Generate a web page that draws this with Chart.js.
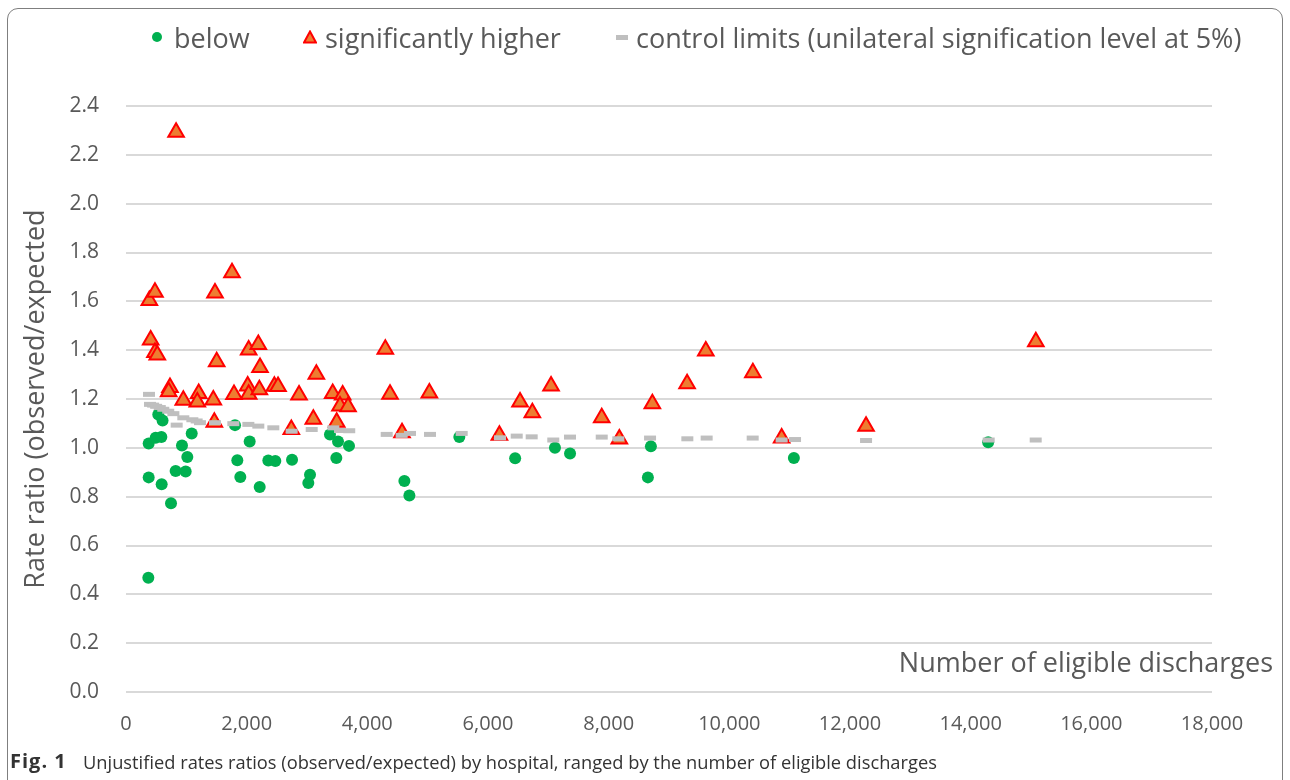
<!DOCTYPE html>
<html>
<head>
<meta charset="utf-8">
<script src="https://cdn.jsdelivr.net/npm/chart.js@4.4.0/dist/chart.umd.min.js"></script>
<style>
  body { margin: 0; background: #fff; font-family: 'Open Sans', sans-serif; }
  #wrap { position: relative; width: 1290px; height: 780px; overflow: hidden; }
  #frame { position: absolute; left: 7px; top: 8px; width: 1276px; height: 820px; border: 1.5px solid #7f7f7f; border-radius: 11px; box-sizing: border-box; }
  canvas { position: absolute; left: 0; top: 0; }
  .leg { position: absolute; top: 18px; height: 38px; display: flex; align-items: center; font-size: 27px; color: #595959; white-space: nowrap; }
  .dot { width: 10px; height: 10px; border-radius: 50%; background: #00B050; margin-right: 12px; }
  .tri { margin-right: 8px; }
  .dash { width: 12px; height: 5px; background: #BFBFBF; margin-right: 8px; }
  #xtitle { position: absolute; right: 17px; top: 643px; font-size: 27px; color: #595959; white-space: nowrap; }
  .cap { position: absolute; top: 749px; color: #333; white-space: nowrap; }
  .cap.fig { left: 10px; font-weight: bold; font-size: 20px; letter-spacing: 1px; top: 747px; }
  .cap.txt { left: 83px; font-size: 18.3px; }
</style>
</head>
<body>
<div id="wrap">
  <div id="frame"></div>
  <canvas id="chart" width="1290" height="780"></canvas>
  <div class="leg" style="left:152px"><span class="dot"></span>below</div>
  <div class="leg" style="left:303px"><svg class="tri" width="14" height="14"><polygon points="7,1.5 13,12.5 1,12.5" fill="#ED7D31" stroke="#FF0000" stroke-width="2"/></svg>significantly higher</div>
  <div class="leg" style="left:616px"><span class="dash"></span>control limits (unilateral signification level at 5%)</div>
  <div id="xtitle">Number of eligible discharges</div>
  <div class="cap fig">Fig. 1</div>
  <div class="cap txt">Unjustified rates ratios (observed/expected) by hospital, ranged by the number of eligible discharges</div>
</div>
<script>
// ===== DATA =====
// hospitals with a ratio below the control limit
const belowX = [370, 535, 606, 376, 492, 586, 1089, 928, 1016, 376, 591, 823, 989, 746,
  1807, 2050, 1845, 1895, 2216, 2359, 2475, 2752, 3050, 3022, 3381, 3514, 3696, 3486,
  4614, 4697, 5525, 6450, 7110, 7360, 8650, 8700, 11070, 14290];
const belowY = [0.468, 1.137, 1.112, 1.018, 1.041, 1.044, 1.059, 1.010, 0.962, 0.879, 0.851, 0.905, 0.903, 0.773,
  1.093, 1.026, 0.949, 0.881, 0.840, 0.948, 0.946, 0.951, 0.890, 0.856, 1.055, 1.026, 1.008, 0.958,
  0.864, 0.805, 1.044, 0.957, 1.000, 0.977, 0.879, 1.006, 0.958, 1.023];

// hospitals significantly higher than expected
const higherX = [830, 387, 480, 409, 480, 519, 729, 707, 950, 1205, 1182, 1447, 1475, 1503, 1464,
  1757, 1790, 2033, 2193, 2221, 2017, 2033, 2210, 2459, 2520, 2868, 3155, 3105, 2740,
  3426, 3591, 3547, 3680, 3492, 4298, 4376, 4575, 5028, 6189, 6531, 6735, 7045, 7885,
  8177, 8724, 9300, 9610, 10390, 10867, 12266, 15080];
const higherY = [2.293, 1.603, 1.637, 1.442, 1.390, 1.380, 1.247, 1.230, 1.195, 1.223, 1.188, 1.196, 1.634, 1.353, 1.105,
  1.717, 1.218, 1.401, 1.423, 1.329, 1.253, 1.219, 1.238, 1.252, 1.251, 1.216, 1.301, 1.117, 1.075,
  1.223, 1.216, 1.171, 1.168, 1.105, 1.404, 1.219, 1.062, 1.225, 1.052, 1.188, 1.144, 1.253, 1.123,
  1.036, 1.181, 1.262, 1.397, 1.307, 1.040, 1.088, 1.434];

// upper control limit per hospital
const limitX = [381, 398, 450, 500, 560, 618, 700, 785, 840, 950, 1100, 1171, 1226, 1475, 1779,
  2028, 2193, 2442, 2746, 3078, 3437, 3547, 3700, 4321, 4569, 4707, 5039, 5564, 6199,
  6476, 6724, 7082, 7359, 7885, 8160, 8686, 9304, 9624, 10387, 10867, 11089, 12266, 14299, 15078];
const limitY = [1.219, 1.178, 1.175, 1.170, 1.165, 1.158, 1.150, 1.140, 1.093, 1.123, 1.115, 1.110, 1.103, 1.103, 1.099,
  1.096, 1.089, 1.082, 1.068, 1.075, 1.082, 1.071, 1.070, 1.055, 1.051, 1.059, 1.055, 1.059, 1.041,
  1.048, 1.045, 1.032, 1.044, 1.044, 1.037, 1.040, 1.037, 1.040, 1.040, 1.032, 1.034, 1.030, 1.032, 1.032];

const xTicks = { min: 0, max: 18000, step: 2000 };
const yTicks = { min: 0, max: 2.4, step: 0.2 };

const toPoints = (xs, ys) => xs.map((x, i) => ({ x, y: ys[i] }));

Chart.defaults.font.family = "'Open Sans', sans-serif";
Chart.defaults.color = '#595959';

new Chart(document.getElementById('chart'), {
  type: 'scatter',
  data: {
    datasets: [
      {
        label: 'below',
        data: toPoints(belowX, belowY),
        pointStyle: 'circle',
        pointRadius: 6,
        pointBackgroundColor: '#00B050',
        pointBorderWidth: 0,
        order: 2,
      },
      {
        label: 'significantly higher',
        data: toPoints(higherX, higherY),
        pointStyle: 'triangle',
        pointRadius: 9,
        pointBackgroundColor: '#ED7D31',
        pointBorderColor: '#FF0000',
        pointBorderWidth: 2,
        order: 1,
      },
      {
        label: 'control limits (unilateral signification level at 5%)',
        data: toPoints(limitX, limitY),
        pointStyle: 'line',
        pointRadius: 6,
        pointBorderColor: '#BFBFBF',
        pointBorderWidth: 5,
        order: 0,
      },
    ],
  },
  options: {
    responsive: false,
    animation: false,
    events: [],
    layout: { padding: { left: 0, right: 78, top: 106, bottom: 24 } },
    plugins: { legend: { display: false }, tooltip: { enabled: false } },
    scales: {
      x: {
        min: xTicks.min,
        max: xTicks.max,
        grid: { display: false, drawTicks: false },
        border: { display: false },
        ticks: {
          stepSize: xTicks.step,
          padding: 20,
          font: { size: 20 },
          color: '#595959',
          callback: v => v.toLocaleString('en-US'),
        },
      },
      y: {
        min: yTicks.min,
        max: yTicks.max,
        grid: { color: '#d9d9d9', lineWidth: 2, drawTicks: false },
        border: { display: false },
        ticks: {
          stepSize: yTicks.step,
          padding: 27,
          font: { size: 21 },
          color: '#595959',
          callback: v => Number(v).toFixed(1),
        },
        title: {
          display: true,
          text: 'Rate ratio (observed/expected',
          font: { size: 27 },
          color: '#595959',
          padding: { top: 20, bottom: 0 },
        },
        afterFit: scale => { scale.width = 126; },
      },
    },
  },
});
</script>
</body>
</html>
